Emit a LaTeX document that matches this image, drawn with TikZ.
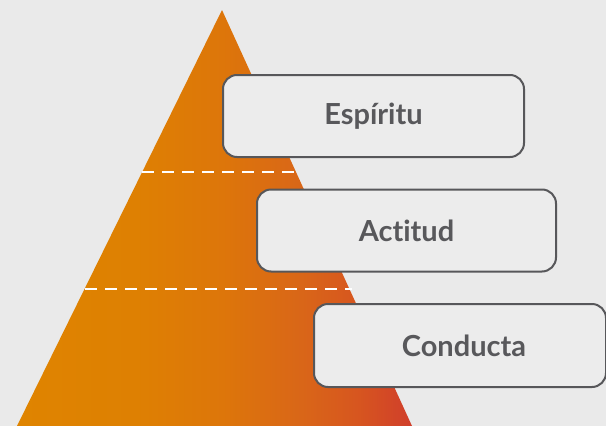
\documentclass[tikz,border=0pt]{standalone}
\usepackage{fontspec}
\setmainfont[Ligatures=NoCommon]{Lato}
\definecolor{bg}{HTML}{EAEAEA}
\definecolor{boxfill}{HTML}{ECECEC}
\definecolor{boxline}{HTML}{57575A}
\definecolor{txt}{HTML}{58585B}
\definecolor{gA}{HTML}{DF8400}
\definecolor{gB}{HTML}{DE8002}
\definecolor{gC}{HTML}{DD760A}
\definecolor{gD}{HTML}{D96618}
\definecolor{gE}{HTML}{D7561F}
\definecolor{gF}{HTML}{D03E2B}
\pgfdeclarehorizontalshading{pyramidshade}{100bp}{color(0bp)=(gA); color(25bp)=(gA); color(40bp)=(gB); color(51bp)=(gC); color(61bp)=(gD); color(68bp)=(gE); color(75bp)=(gF); color(100bp)=(gF)}
\tikzset{
  tierbox/.style={draw=boxline, line width=2pt, rounded corners=14pt, fill=boxfill,
    text=txt, font=\fontsize{29}{34}\selectfont\bfseries, inner sep=0pt},
  divider/.style={draw=white, line width=2.5pt, dash pattern=on 12pt off 8pt}
}
\begin{document}
\begin{tikzpicture}[x=1pt,y=-1pt]
\useasboundingbox (0,0) rectangle (606,426);
\fill[bg] (0,0) rectangle (606,426);
\coordinate (apex) at (222,10);
\coordinate (bl) at (17,426);
\coordinate (br) at (412,426);
\shade[shading=pyramidshade] (apex) -- (br) -- (bl) -- cycle;
\coordinate (d1a) at (142,172);
\coordinate (d1b) at (298,172);
\coordinate (d2a) at (85,289);
\coordinate (d2b) at (352,289);
\draw[divider] (d1a) -- (d1b);
\draw[divider] (d2a) -- (d2b);
\node[tierbox, minimum width=301pt, minimum height=82pt] (espiritu) at (373.5,116) {Espíritu};
\node[tierbox, minimum width=299pt, minimum height=82pt] (actitud) at (406.5,230.5) {Actitud};
\node[tierbox, minimum width=292pt, minimum height=83pt] (conducta) at (460,345.5) {\hspace*{8pt}Conducta};
\end{tikzpicture}
\end{document}
